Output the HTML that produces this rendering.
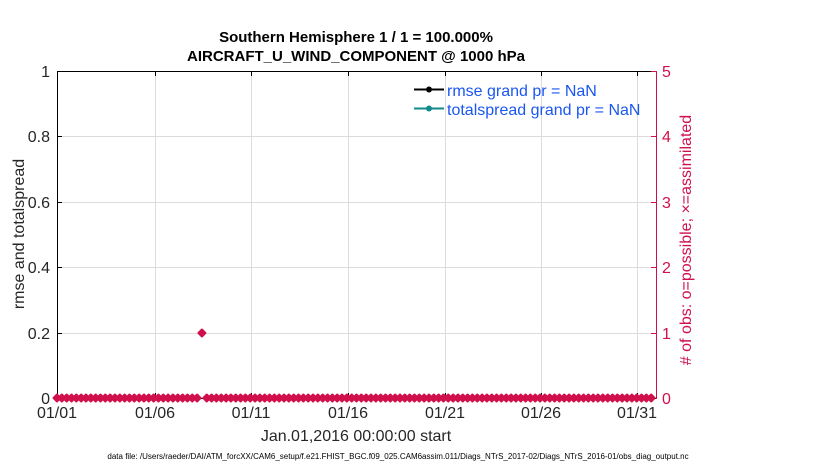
<!DOCTYPE html>
<html><head><meta charset="utf-8"><style>
html,body{margin:0;padding:0;background:#fff;}
svg{display:block;font-family:"Liberation Sans",sans-serif;}
</style></head><body>
<svg id="s" width="830" height="470" viewBox="0 0 830 470" xmlns="http://www.w3.org/2000/svg">
<rect width="830" height="470" fill="#fff"/>
<g stroke="#dcdcdc" stroke-width="1">
<line x1="155.5" y1="71" x2="155.5" y2="398"/><line x1="251.5" y1="71" x2="251.5" y2="398"/>
<line x1="348.5" y1="71" x2="348.5" y2="398"/><line x1="445.5" y1="71" x2="445.5" y2="398"/>
<line x1="541.5" y1="71" x2="541.5" y2="398"/><line x1="637.5" y1="71" x2="637.5" y2="398"/>
<line x1="57" y1="136.5" x2="656" y2="136.5"/><line x1="57" y1="202.5" x2="656" y2="202.5"/>
<line x1="57" y1="267.5" x2="656" y2="267.5"/><line x1="57" y1="333.5" x2="656" y2="333.5"/>
</g>
<g stroke="#000" stroke-width="1" fill="none">
<line x1="57" y1="71.5" x2="656" y2="71.5"/>
<line x1="57" y1="398.5" x2="656" y2="398.5"/>
<line x1="57.5" y1="71" x2="57.5" y2="398"/>
</g>
<g stroke="#000"><path id="ticks" d=""/></g>
<line x1="656.5" y1="71" x2="656.5" y2="399" stroke="#d0104c" stroke-width="1"/>
<g stroke="#d0104c"><line x1="651" y1="71.5" x2="656" y2="71.5"/><line x1="651" y1="136.5" x2="656" y2="136.5"/><line x1="651" y1="202.5" x2="656" y2="202.5"/><line x1="651" y1="267.5" x2="656" y2="267.5"/><line x1="651" y1="333.5" x2="656" y2="333.5"/></g>
<g id="mk" fill="#d0104c" stroke="#d0104c" stroke-width="2" stroke-linejoin="round"></g>
<g font-size="16" fill="#262626" text-anchor="end">
<text x="50" y="77">1</text><text x="50" y="142">0.8</text><text x="50" y="208">0.6</text>
<text x="50" y="273">0.4</text><text x="50" y="339">0.2</text><text x="50" y="404">0</text>
</g>
<g font-size="16" fill="#d0104c">
<text x="662" y="77">5</text><text x="662" y="142">4</text><text x="662" y="208">3</text>
<text x="662" y="273">2</text><text x="662" y="339">1</text><text x="662" y="404">0</text>
</g>
<g font-size="16" fill="#262626" text-anchor="middle">
<text x="57" y="418">01/01</text><text x="155" y="418">01/06</text><text x="251" y="418">01/11</text>
<text x="348" y="418">01/16</text><text x="445" y="418">01/21</text><text x="541" y="418">01/26</text>
<text x="637" y="418">01/31</text>
<text x="356" y="441" font-size="16">Jan.01,2016 00:00:00 start</text>
<text x="356" y="42" font-size="15" font-weight="bold" fill="#000">Southern Hemisphere 1 / 1 = 100.000%</text>
<text x="356" y="61" font-size="15" font-weight="bold" fill="#000">AIRCRAFT_U_WIND_COMPONENT @ 1000 hPa</text>
<text x="398" y="459" font-size="8" fill="#000">data file: /Users/raeder/DAI/ATM_forcXX/CAM6_setup/f.e21.FHIST_BGC.f09_025.CAM6assim.011/Diags_NTrS_2017-02/Diags_NTrS_2016-01/obs_diag_output.nc</text>
</g>
<text transform="translate(24,234) rotate(-90)" font-size="16" fill="#262626" text-anchor="middle">rmse and totalspread</text>
<text transform="translate(691,240) rotate(-90)" font-size="16" fill="#d0104c" text-anchor="middle"># of obs: o=possible; ×=assimilated</text>
<line x1="414" y1="89.5" x2="444" y2="89.5" stroke="#000" stroke-width="2"/><circle cx="429" cy="89.5" r="3" fill="#000"/>
<line x1="414" y1="108.5" x2="444" y2="108.5" stroke="#138a8a" stroke-width="2"/><circle cx="429" cy="108.5" r="3" fill="#138a8a"/>
<text x="447" y="96" font-size="16" fill="#1a56f0">rmse grand pr = NaN</text>
<text x="447" y="115" font-size="16" fill="#1a56f0">totalspread grand pr = NaN</text>
</svg>
<script>
var g=document.getElementById('mk'),h='';
for(var i=0;i<=123;i++){var x=57+i*599/124,y=(i==30)?333:398;
h+='<path d="M'+(x-3.5)+' '+y+'L'+x+' '+(y-3.5)+'L'+(x+3.5)+' '+y+'L'+x+' '+(y+3.5)+'Z"/>';}
g.innerHTML=h;
var t='';[155.5,251.5,348.5,445.5,541.5,637.5].forEach(function(x){t+='M'+x+' 398V393M'+x+' 71V76';});
[136.5,202.5,267.5,333.5].forEach(function(y){t+='M57 '+y+'H62';});
document.getElementById('ticks').setAttribute('d',t);
</script>
</body></html>
